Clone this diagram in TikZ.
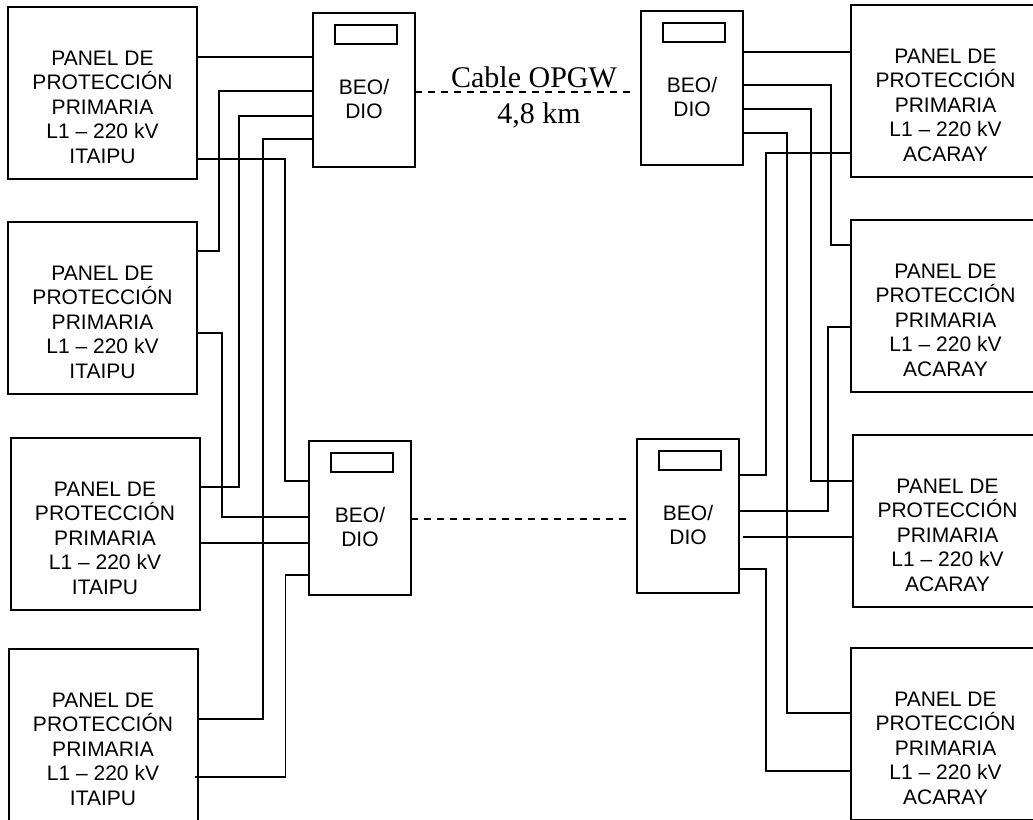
\documentclass[tikz,border=0pt]{standalone}
\usepackage{fontspec}
\setmainfont{Liberation Serif}
\newfontfamily\arialfont{Liberation Sans}
\usetikzlibrary{calc}

\newcommand{\txtITA}{PANEL DE\\PROTECCIÓN\\PRIMARIA\\L1 – 220 kV\\ITAIPU}
\newcommand{\txtACA}{PANEL DE\\PROTECCIÓN\\PRIMARIA\\L1 – 220 kV\\ACARAY}
\newcommand{\txtBEO}{BEO/\\DIO}

\tikzset{
  panel/.style={draw, line width=2pt, outer sep=0pt, inner sep=0pt,
    minimum width=189pt, minimum height=172pt},
  paneltext/.style={align=center, inner sep=0pt, yshift=-14pt,
    font=\arialfont\fontsize{21}{24.5}\selectfont},
  beo/.style={draw, line width=2pt, outer sep=0pt, inner sep=0pt,
    minimum width=102pt, minimum height=154pt},
  beotext/.style={align=center, inner sep=0pt, yshift=-8.5pt,
    font=\arialfont\fontsize{21}{24}\selectfont},
  visor/.style={draw, line width=2pt, outer sep=0pt, inner sep=0pt,
    minimum width=62pt, minimum height=19pt},
  wire/.style={line width=1.9pt},
  fibra/.style={line width=1.9pt, dash pattern=on 7pt off 6pt},
  cabletext/.style={anchor=base, inner sep=0pt, font=\fontsize{30}{32}\selectfont}
}

\begin{document}
\begin{tikzpicture}[x=1pt, y=-1pt]

\useasboundingbox (0,0) rectangle (1033,819);
\clip (0,0) rectangle (1033,819);

% Panels ITAIPU
\node[panel, label={[paneltext]center:\txtITA}] (itaA) at (102.5,93) {};
\node[panel, label={[paneltext]center:\txtITA}] (itaB) at (102.5,308) {};
\node[panel, label={[paneltext]center:\txtITA}] (itaC) at (105,524) {};
\node[panel, label={[paneltext]center:\txtITA}] (itaD) at (103,735) {};

% Panels ACARAY
\node[panel, label={[paneltext]center:\txtACA}] (acaA) at (945.5,91) {};
\node[panel, label={[paneltext]center:\txtACA}] (acaB) at (945.5,306) {};
\node[panel, label={[paneltext]center:\txtACA}] (acaC) at (947.5,521) {};
\node[panel, label={[paneltext]center:\txtACA}] (acaD) at (945.5,734) {};

% BEO/DIO
\node[beo, label={[beotext]center:\txtBEO}] (beoA) at (364,90) {};
\node[beo, label={[beotext]center:\txtBEO}] (beoB) at (360,518) {};
\node[beo, label={[beotext]center:\txtBEO}] (beoC) at (692,88) {};
\node[beo, label={[beotext]center:\txtBEO}] (beoD) at (688,516) {};

\node[visor] (visA) at ([xshift=2pt,yshift=-21.5pt]beoA.north) {};
\node[visor] (visB) at ([xshift=2pt,yshift=-21.5pt]beoB.north) {};
\node[visor] (visC) at ([xshift=2pt,yshift=-21.5pt]beoC.north) {};
\node[visor] (visD) at ([xshift=2pt,yshift=-21.5pt]beoD.north) {};

% Cable OPGW
\draw[fibra] ([yshift=-79pt]beoA.north east) -- ([xshift=-8pt,yshift=-81pt]beoC.north west);
\draw[fibra] ([yshift=-78pt]beoB.north east) -- ([xshift=-7pt,yshift=-80pt]beoD.north west);
\node[cabletext] (opgw) at (534,87) {Cable OPGW};
\node[cabletext] (dist) at (539,123) {4,8 km};

% Wiring left
\draw[wire] ([yshift=-44pt]beoA.north west) -- ([yshift=-50pt]itaA.north east);
\draw[wire] ([yshift=-78pt]beoA.north west) -- ++(-94,0) |- ([yshift=-29pt]itaB.north east);
\draw[wire] ([yshift=-103pt]beoA.north west) -- ++(-74,0) |- ([yshift=-49pt]itaC.north east);
\draw[wire] ([yshift=-126pt]beoA.north west) -- ++(-50,0) |- ([yshift=-70pt]itaD.north east);
\draw[wire] ([yshift=-152pt]itaA.north east) -- ++(88,0) |- ([yshift=-40pt]beoB.north west);
\draw[wire] ([yshift=-111pt]itaB.north east) -- ++(25,0) |- ([yshift=-76pt]beoB.north west);
\draw[wire] ([yshift=-105pt]itaC.north east) -- ([yshift=-102pt]beoB.north west);
\draw[wire] ([xshift=-3pt,yshift=-128pt]itaD.north east) -- ++(91,0) |- ([yshift=-134pt]beoB.north west);

% Wiring right
\draw[wire] ([yshift=-41pt]beoC.north east) -- ([yshift=-47pt]acaA.north west);
\draw[wire] ([yshift=-74pt]beoC.north east) -- ++(88,0) |- ([yshift=-25pt]acaB.north west);
\draw[wire] ([yshift=-98pt]beoC.north east) -- ++(68,0) |- ([yshift=-46pt]acaC.north west);
\draw[wire] ([yshift=-122pt]beoC.north east) -- ++(44,0) |- ([yshift=-65pt]acaD.north west);
\draw[wire] ([yshift=-148pt]acaA.north west) -- ++(-85,0) |- ([yshift=-36pt]beoD.north east);
\draw[wire] ([yshift=-107pt]acaB.north west) -- ++(-23,0) |- ([yshift=-72pt]beoD.north east);
\draw[wire] ([yshift=-102pt]acaC.north west) -- ([xshift=4pt,yshift=-98pt]beoD.north east);
\draw[wire] ([yshift=-123pt]acaD.north west) -- ++(-85,0) |- ([yshift=-130pt]beoD.north east);

\end{tikzpicture}
\end{document}
